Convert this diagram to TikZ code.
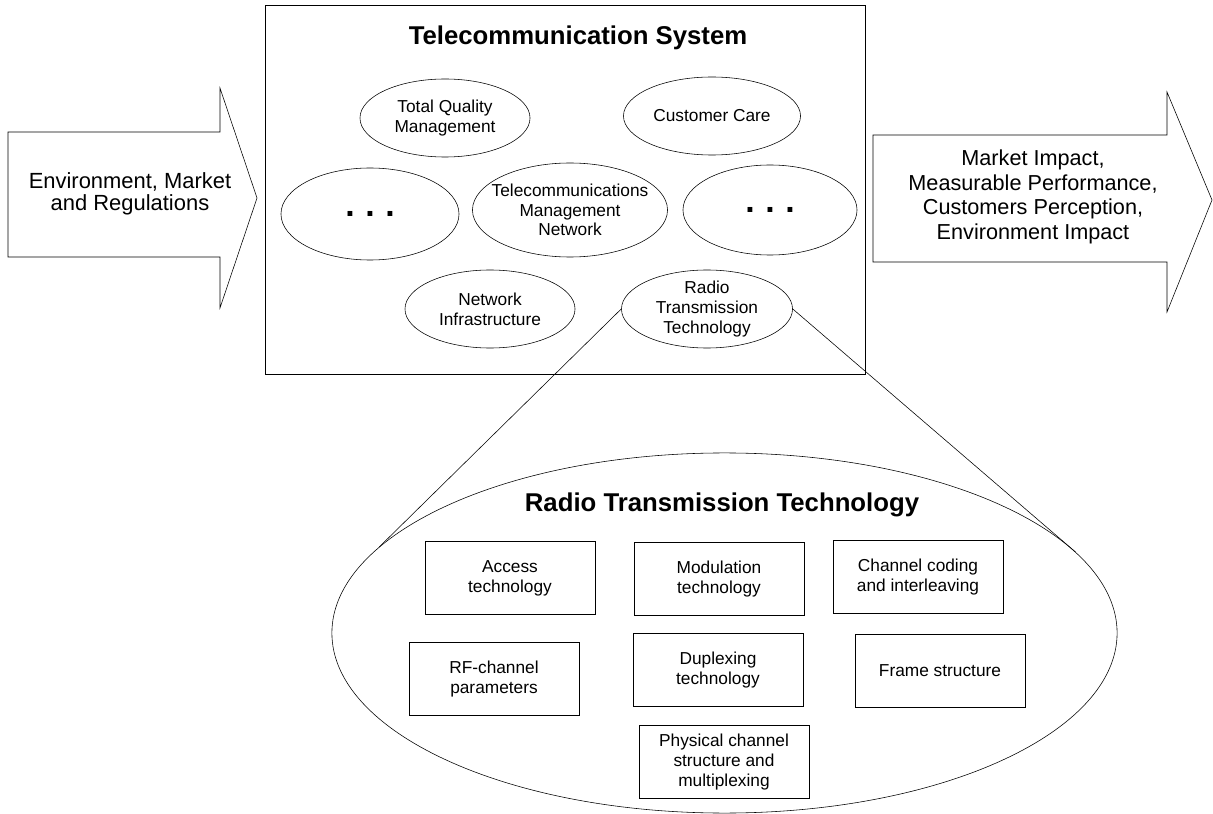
\documentclass[tikz,border=0pt]{standalone}
\usepackage{fontspec}
\setmainfont{Liberation Sans}
\usetikzlibrary{shapes.geometric}

\begin{document}
\begin{tikzpicture}[x=0.025cm, y=-0.025cm,
	oval/.style={draw, ellipse, inner sep=0pt},
	txt/.style={align=center, font=\fontsize{12.3}{14}\selectfont},
	part/.style={draw, minimum width=4.25cm, minimum height=1.825cm, txt},
	heading/.style={font=\fontsize{18.3}{20}\selectfont\bfseries},
	dots/.style={font=\fontsize{24}{24}\selectfont\bfseries}]
	\useasboundingbox (0,0) rectangle (1213,814);
	% arrows in and out
	\draw (8,132) -- (220,132) -- (220,88) -- (257,198) -- (220,308) -- (220,257) -- (8,257) -- cycle;
	\node[align=center, font=\fontsize{15.6}{15.8}\selectfont] (env) at (130,194) {Environment, Market\\and Regulations};
	\draw (873,135) -- (1167,135) -- (1167,92) -- (1212,200) -- (1167,312) -- (1167,262) -- (873,262) -- cycle;
	\node[align=center, font=\fontsize{15.4}{17.4}\selectfont] (impact) at (1033,197) {Market Impact,\\Measurable Performance,\\Customers Perception,\\Environment Impact};
	% telecommunication system
	\node[draw, minimum width=15cm, minimum height=9.225cm] (sys) at (565,189.5) {};
	\node[heading] (systitle) at (578,38) {Telecommunication System};
	\node[oval, minimum width=4.25cm, minimum height=1.95cm, label={[txt]center:Total Quality\\Management}] (tqm) at (445,118) {};
	\node[oval, minimum width=4.425cm, minimum height=1.95cm, label={[txt]center:Customer Care}] (care) at (712,116) {};
	\node[oval, minimum width=4.45cm, minimum height=2.3cm, label={[dots]center:.\hspace{0.265cm}.\hspace{0.265cm}.}] (morel) at (370,214) {};
	\node[oval, minimum width=4.875cm, minimum height=2.35cm, label={[txt]center:Telecommunications\\Management\\Network}] (tmn) at (570,210) {};
	\node[oval, minimum width=4.35cm, minimum height=2.25cm, label={[dots]center:.\hspace{0.265cm}.\hspace{0.265cm}.}] (morer) at (770,210) {};
	\node[oval, minimum width=4.25cm, minimum height=1.95cm, label={[txt]center:Network\\Infrastructure}] (infra) at (490,309) {};
	\node[oval, minimum width=4.275cm, minimum height=1.95cm, label={[txt]center:Radio\\Transmission\\Technology}] (rtt) at (707,309) {};
	% zoom on radio transmission technology
	\node[oval, minimum width=19.625cm, minimum height=9cm] (rttbig) at (724.5,633) {};
	\draw (rtt.west) -- (rttbig.166.7);
	\draw (rtt.east) -- (rttbig.13.4);
	\node[heading] (rtttitle) at (722,505) {Radio Transmission Technology};
	\node[part] (access) at (510,578) {Access\\technology};
	\node[part] (modul) at (719,579) {Modulation\\technology};
	\node[part] (coding) at (918,577) {Channel coding\\and interleaving};
	\node[part] (rf) at (494,679) {RF-channel\\parameters};
	\node[part] (duplex) at (718,670) {Duplexing\\technology};
	\node[part] (frame) at (940,671) {Frame structure};
	\node[part] (phys) at (724,762) {Physical channel\\structure and\\multiplexing};
\end{tikzpicture}
\end{document}
